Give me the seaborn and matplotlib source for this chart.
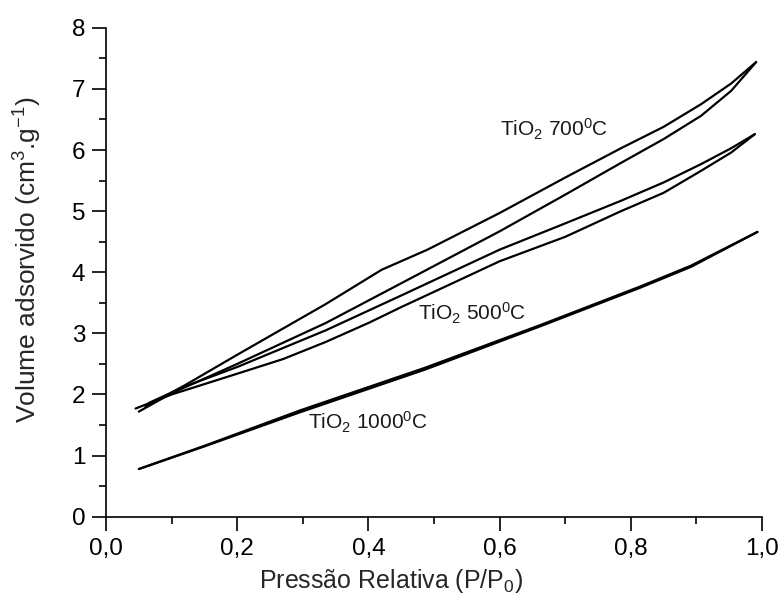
import numpy as np
import seaborn as sns
import matplotlib
matplotlib.use("Agg")
import matplotlib.pyplot as plt
from matplotlib.ticker import MultipleLocator, FuncFormatter

# isotermas (adsorcao / dessorcao)
x_700_ads = [0.05, 0.10, 0.20, 0.335, 0.45, 0.60, 0.70, 0.785, 0.85, 0.907, 0.953, 0.991]
y_700_ads = [1.72, 2.02, 2.50, 3.17, 3.82, 4.67, 5.27, 5.79, 6.18, 6.56, 6.97, 7.44]
x_700_des = [0.991, 0.953, 0.907, 0.85, 0.785, 0.70, 0.60, 0.49, 0.42, 0.335, 0.20, 0.12, 0.06]
y_700_des = [7.44, 7.09, 6.75, 6.38, 6.03, 5.55, 4.97, 4.37, 4.04, 3.48, 2.65, 2.15, 1.80]

x_500_ads = [0.045, 0.10, 0.20, 0.27, 0.335, 0.40, 0.45, 0.60, 0.70, 0.785, 0.85, 0.907, 0.953, 0.989]
y_500_ads = [1.77, 2.00, 2.34, 2.58, 2.86, 3.17, 3.43, 4.18, 4.58, 5.00, 5.30, 5.66, 5.96, 6.26]
x_500_des = [0.989, 0.953, 0.907, 0.85, 0.785, 0.70, 0.60, 0.45, 0.335, 0.20, 0.12, 0.065]
y_500_des = [6.26, 6.03, 5.77, 5.47, 5.17, 4.80, 4.37, 3.62, 3.05, 2.45, 2.13, 1.86]

x_1000_ads = [0.05, 0.15, 0.296, 0.487, 0.663, 0.815, 0.892, 0.993]
y_1000_ads = [0.78, 1.15, 1.71, 2.41, 3.12, 3.75, 4.09, 4.66]
x_1000_des = [0.993, 0.892, 0.815, 0.663, 0.487, 0.296, 0.15, 0.05]
y_1000_des = [4.66, 4.11, 3.77, 3.14, 2.44, 1.74, 1.16, 0.78]

labels = ["TiO$_2$ 700$^0$C", "TiO$_2$ 500$^0$C", "TiO$_2$ 1000$^0$C"]
label_pos = [(0.60, 6.33), (0.476, 3.33), (0.308, 1.55)]

sns.set_theme(style="ticks")
plt.rcParams["font.family"] = ["Liberation Sans", "DejaVu Sans"]
plt.rcParams["mathtext.fontset"] = "custom"
plt.rcParams["mathtext.rm"] = "Liberation Sans"
plt.rcParams["mathtext.it"] = "Liberation Sans:italic"
plt.rcParams["mathtext.bf"] = "Liberation Sans:bold"
plt.rcParams["mathtext.default"] = "regular"

fig, ax = plt.subplots(figsize=(7.8, 6.05), dpi=100)
fig.subplots_adjust(left=0.136, right=0.977, bottom=0.146, top=0.954)

branches = [
    (x_700_ads, y_700_ads), (x_700_des, y_700_des),
    (x_500_ads, y_500_ads), (x_500_des, y_500_des),
    (x_1000_ads, y_1000_ads), (x_1000_des, y_1000_des),
]
for xs, ys in branches:
    sns.lineplot(x=xs, y=ys, ax=ax, color="black", linewidth=1.6, sort=False)

for txt, (tx, ty) in zip(labels, label_pos):
    ax.text(tx, ty, txt, fontsize=15, color="#1a1a1a", va="center", ha="left")

ax.set_xlim(0, 1.0)
ax.set_ylim(0, 8)
ax.xaxis.set_major_locator(MultipleLocator(0.2))
ax.xaxis.set_minor_locator(MultipleLocator(0.1))
ax.yaxis.set_major_locator(MultipleLocator(1))
ax.yaxis.set_minor_locator(MultipleLocator(0.5))
ax.xaxis.set_major_formatter(FuncFormatter(lambda v, p: f"{v:.1f}".replace(".", ",")))
ax.yaxis.set_major_formatter(FuncFormatter(lambda v, p: f"{v:.0f}"))

ax.tick_params(which="major", direction="out", length=10, width=1.2,
               labelsize=17.5, pad=5, colors="black")
ax.tick_params(which="minor", direction="out", length=5, width=1.2, colors="black")
for s in ["left", "bottom"]:
    ax.spines[s].set_linewidth(1.2)
    ax.spines[s].set_color("black")
sns.despine(ax=ax)

ax.set_xlabel("Pressão Relativa (P/P$_0$)", fontsize=18)
ax.set_ylabel("Volume adsorvido (cm$^3$.g$^{-1}$)", fontsize=19)
ax.xaxis.set_label_coords(0.434, -0.102)
ax.yaxis.set_label_coords(-0.095, 0.525)

fig.savefig("out.png", dpi=100)
